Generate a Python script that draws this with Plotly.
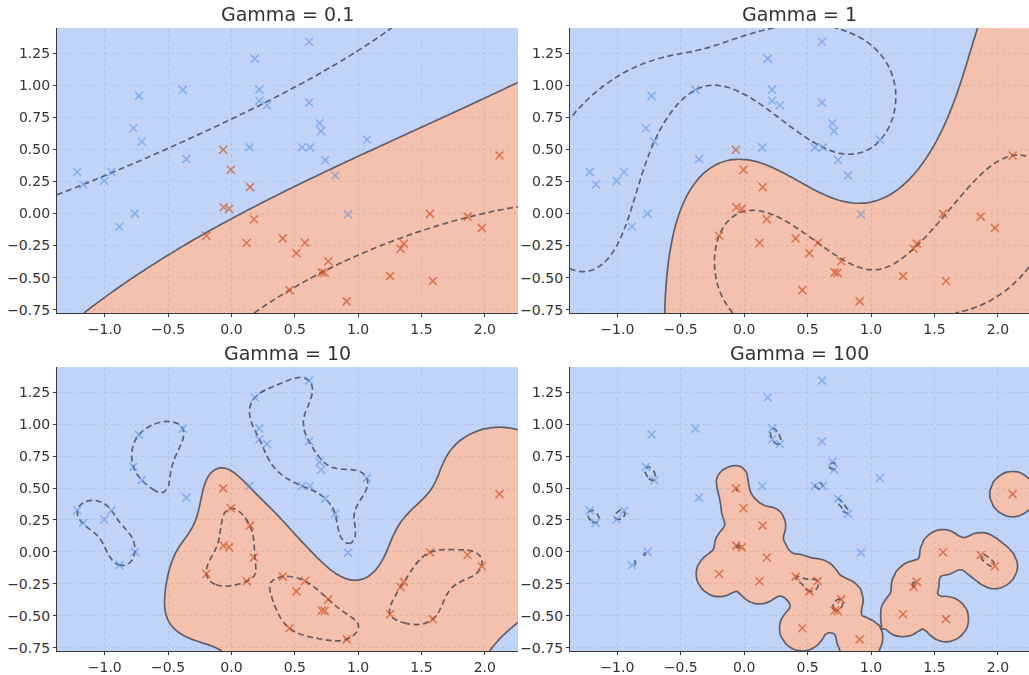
import numpy as np
import plotly.graph_objects as go

# ---- data ----
blue_x = [0.185, -0.384, 0.22, -0.73, 0.22, 0.281, -0.774, -0.708, 0.143, -0.356,
          -1.217, -0.947, 0.613, 0.613, 0.695, 0.708, 1.069, 0.557, 0.621, 0.74,
          0.818, -1.005, -0.762, -0.885, 0.92, -1.17]
blue_y = [1.209, 0.965, 0.967, 0.918, 0.88, 0.845, 0.666, 0.562, 0.516, 0.425,
          0.325, 0.324, 1.341, 0.866, 0.705, 0.643, 0.578, 0.516, 0.516, 0.417,
          0.298, 0.254, 0.0, -0.103, -0.006, 0.227]
red_x = [-0.065, -0.005, 2.116, 0.146, -0.062, -0.019, -0.198, 0.178, 0.12, 0.405,
         0.458, 0.58, 0.513, 0.765, 0.713, 0.736, 0.91, 1.252, 1.335, 1.361,
         1.567, 1.59, 1.864, 1.976]
red_y = [0.498, 0.342, 0.453, 0.206, 0.049, 0.036, -0.173, -0.044, -0.23, -0.194,
         -0.598, -0.228, -0.309, -0.372, -0.459, -0.462, -0.685, -0.488, -0.275, -0.235,
         -0.003, -0.526, -0.024, -0.112]

gammas = [0.1, 1, 10, 100]
titles = ["Gamma = 0.1", "Gamma = 1", "Gamma = 10", "Gamma = 100"]
x_ticks = [-1.0, -0.5, 0.0, 0.5, 1.0, 1.5, 2.0]
y_ticks = [-0.75, -0.5, -0.25, 0.0, 0.25, 0.5, 0.75, 1.0, 1.25]
C_value = 1.0

# ---- RBF SVM (SMO, maximal violating pair) ----
def rbf(A, B, g):
    d = ((A[:, None, :] - B[None, :, :]) ** 2).sum(-1)
    return np.exp(-g * d)


def fit_svm(X, y, g, C=1.0, tol=1e-6, max_iter=400000):
    K = rbf(X, X, g)
    Q = (y[:, None] * y[None, :]) * K
    n = len(y)
    a = np.zeros(n)
    G = -np.ones(n)
    for _ in range(max_iter):
        m = -y * G
        up = ((y > 0) & (a < C - 1e-12)) | ((y < 0) & (a > 1e-12))
        low = ((y > 0) & (a > 1e-12)) | ((y < 0) & (a < C - 1e-12))
        mu = np.where(up, m, -np.inf)
        ml = np.where(low, m, np.inf)
        i = int(np.argmax(mu))
        j = int(np.argmin(ml))
        if mu[i] - ml[j] < tol:
            break
        eta = K[i, i] + K[j, j] - 2 * K[i, j]
        t = (mu[i] - ml[j]) / max(eta, 1e-12)
        ti = C - a[i] if y[i] > 0 else a[i]
        tj = a[j] if y[j] > 0 else C - a[j]
        t = min(t, ti, tj)
        a[i] += y[i] * t
        a[j] -= y[j] * t
        G += t * (y[i] * Q[:, i] - y[j] * Q[:, j])
    m = -y * G
    free = (a > 1e-8) & (a < C - 1e-8)
    if free.any():
        b = m[free].mean()
    else:
        up = ((y > 0) & (a < C)) | ((y < 0) & (a > 0))
        low = ((y > 0) & (a > 0)) | ((y < 0) & (a < C))
        b = 0.5 * (m[up].max() + m[low].min())
    return a, b


X = np.column_stack([np.array(blue_x + red_x), np.array(blue_y + red_y)])
Y = np.array([-1.0] * len(blue_x) + [1.0] * len(red_x))

BLUE_FILL = "rgb(176,200,247)"
RED_FILL = "rgb(242,176,153)"
LINE_C = "rgba(40,44,58,0.68)"
BLUE_PT = "rgb(95,150,228)"
RED_PT = "rgb(210,78,28)"

W, H = 1029, 675
col_px = [(57, 518), (570, 1029)]
row_px = [(28, 313), (367, 651)]
x_ranges = [[-1.377, 2.262], [-1.373, 2.245]]
y_range = [-0.776, 1.448]

fig = go.Figure()
layout = dict(width=W, height=H, margin=dict(l=0, r=0, t=0, b=0, autoexpand=False),
              paper_bgcolor="white", plot_bgcolor="white", showlegend=False,
              font=dict(family="DejaVu Sans", color="#333333"))
annotations = []

for k, g in enumerate(gammas):
    r, c = divmod(k, 2)
    idx = "" if k == 0 else str(k + 1)
    xa, ya = "x" + idx, "y" + idx
    xr = x_ranges[c]
    a, b = fit_svm(X, Y, g, C_value)
    gx = np.linspace(xr[0], xr[1], 100)
    gy = np.linspace(y_range[0], y_range[1], 80)
    GX, GY = np.meshgrid(gx, gy)
    P = np.column_stack([GX.ravel(), GY.ravel()])
    Z = (rbf(P, X, g) @ (a * Y) + b).reshape(GX.shape)

    fig.add_trace(go.Contour(
        x=gx, y=gy, z=Z, xaxis=xa, yaxis=ya, autocontour=False,
        contours=dict(start=0, end=0, size=1, coloring="fill", showlines=False),
        colorscale=[[0, BLUE_FILL], [0.5, BLUE_FILL], [0.5, RED_FILL], [1, RED_FILL]],
        showscale=False, line=dict(width=0), opacity=0.78, hoverinfo="skip"))
    fig.add_trace(go.Contour(
        x=gx, y=gy, z=Z, xaxis=xa, yaxis=ya, autocontour=False,
        contours=dict(start=-1, end=1, size=2, coloring="lines"),
        colorscale=[[0, LINE_C], [1, LINE_C]], showscale=False,
        line=dict(width=1.7, dash="6px,3.5px"), hoverinfo="skip"))
    fig.add_trace(go.Contour(
        x=gx, y=gy, z=Z, xaxis=xa, yaxis=ya, autocontour=False,
        contours=dict(start=0, end=0, size=1, coloring="lines"),
        colorscale=[[0, LINE_C], [1, LINE_C]], showscale=False,
        line=dict(width=1.7), hoverinfo="skip"))
    fig.add_trace(go.Scatter(
        x=blue_x, y=blue_y, xaxis=xa, yaxis=ya, mode="markers", opacity=0.58,
        marker=dict(symbol="x-thin", size=8, line=dict(width=1.6, color=BLUE_PT)),
        hoverinfo="skip"))
    fig.add_trace(go.Scatter(
        x=red_x, y=red_y, xaxis=xa, yaxis=ya, mode="markers", opacity=0.66,
        marker=dict(symbol="x-thin", size=8, line=dict(width=1.6, color=RED_PT)),
        hoverinfo="skip"))

    x0, x1 = col_px[c]
    y0, y1 = row_px[r]
    axis_common = dict(showgrid=True, gridcolor="#b4b4b4", griddash="dot", gridwidth=0.8,
                       zeroline=False, showline=True, linecolor="#3a3a3a", linewidth=1.3,
                       ticks="outside", ticklen=3, tickcolor="#3a3a3a",
                       tickfont=dict(size=14, color="#333333", family="DejaVu Sans"),
                       mirror=False, fixedrange=True, automargin=False)
    layout["xaxis" + idx] = dict(axis_common, domain=[x0 / W, x1 / W], range=xr,
                                 anchor=ya, tickvals=x_ticks,
                                 ticktext=[f"{v:.1f}".replace("-", "\u2212") for v in x_ticks])
    layout["yaxis" + idx] = dict(axis_common, domain=[1 - y1 / H, 1 - y0 / H], range=y_range,
                                 anchor=xa, tickvals=y_ticks,
                                 ticktext=[f"{v:.2f}".replace("-", "\u2212") for v in y_ticks])
    annotations.append(dict(text=titles[k], xref="paper", yref="paper",
                            x=((x0 + x1) / 2) / W, y=1 - (y0 - 14) / H,
                            xanchor="center", yanchor="middle", showarrow=False,
                            font=dict(size=19, color="#333333", family="DejaVu Sans")))

layout["annotations"] = annotations
fig.update_layout(**layout)
fig.write_html("out.html", config={"displayModeBar": False},
               post_script="document.body.style.margin='0px';document.body.style.overflow='hidden';")
